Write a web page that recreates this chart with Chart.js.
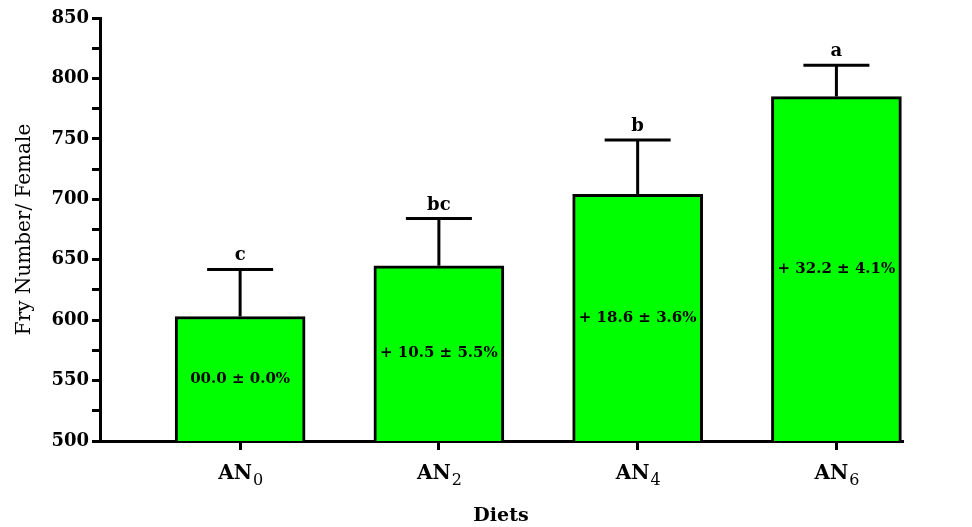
<!DOCTYPE html>
<html>
<head>
<meta charset="utf-8">
<script src="https://cdn.jsdelivr.net/npm/chart.js@4.4.1/dist/chart.umd.min.js"></script>
<style>
  html, body { margin: 0; padding: 0; background: #fff; }
  canvas { display: block; }
</style>
</head>
<body>
<canvas id="chart" width="972" height="527"></canvas>
<script>
// values
const diets = ['AN0', 'AN2', 'AN4', 'AN6']; // trailing digit is drawn as a subscript
const fryMeans = [603, 645, 704, 785];
const fryError = [39, 39, 45, 26];
const groupLetters = ['c', 'bc', 'b', 'a'];
const pctChange = ['00.0 ± 0.0%', '+ 10.5 ± 5.5%', '+ 18.6 ± 3.6%', '+ 32.2 ± 4.1%'];
const yMin = 500, yMax = 850, yStep = 25;

const SERIF = "'DejaVu Serif', 'Liberation Serif', serif";

const barExtras = {
  id: 'barExtras',
  afterDatasetsDraw(chart) {
    const { ctx, scales: { x, y } } = chart;
    ctx.save();
    ctx.strokeStyle = '#000';
    ctx.fillStyle = '#000';
    ctx.lineWidth = 3;
    fryMeans.forEach((m, i) => {
      const cx = x.getPixelForValue(i + 1);
      const top = y.getPixelForValue(m);
      const errTop = y.getPixelForValue(m + fryError[i]);
      // upper error bar with cap
      ctx.beginPath();
      ctx.moveTo(cx, top);
      ctx.lineTo(cx, errTop);
      ctx.moveTo(cx - 33, errTop);
      ctx.lineTo(cx + 33, errTop);
      ctx.stroke();
      // significance letter
      ctx.font = 'bold 18px ' + SERIF;
      ctx.textAlign = 'center';
      ctx.textBaseline = 'alphabetic';
      ctx.fillText(groupLetters[i], cx, errTop - 9);
      // percent change inside bar
      ctx.font = 'bold 15px ' + SERIF;
      ctx.textBaseline = 'middle';
      ctx.fillText(pctChange[i], cx, (top + y.getPixelForValue(yMin)) / 2);
    });
    ctx.restore();
  },
  afterDraw(chart) {
    // category labels with subscript digits
    const { ctx, scales: { x } } = chart;
    const base = x.bottom - 86 + 38;
    ctx.save();
    ctx.fillStyle = '#000';
    ctx.textBaseline = 'alphabetic';
    ctx.textAlign = 'left';
    x.ticks.forEach((t, i) => {
      const label = diets[i];
      const main = label.replace(/\d+$/, '');
      const sub = label.slice(main.length);
      ctx.font = 'bold 20px ' + SERIF;
      const w1 = ctx.measureText(main).width;
      ctx.font = '16px ' + SERIF;
      const w2 = ctx.measureText(sub).width;
      const cx = x.getPixelForValue(t.value);
      const left = cx - (w1 + w2) / 2;
      ctx.font = 'bold 20px ' + SERIF;
      ctx.fillText(main, left, base);
      ctx.font = '16px ' + SERIF;
      ctx.fillText(sub, left + w1 + 1, base + 6);
    });
    ctx.restore();
  }
};

new Chart(document.getElementById('chart'), {
  type: 'bar',
  data: {
    datasets: [{
      data: fryMeans.map((v, i) => ({ x: i + 1, y: v })),
      backgroundColor: '#00ff00',
      borderColor: '#000',
      borderWidth: 3,
      barThickness: 130
    }]
  },
  options: {
    responsive: false,
    animation: false,
    layout: { padding: { top: 18, right: 70, left: 0, bottom: 0 } },
    plugins: { legend: { display: false }, tooltip: { enabled: false } },
    scales: {
      x: {
        type: 'linear',
        offset: false,
        min: 0.295,
        max: 4.33,
        afterBuildTicks: (scale) => { scale.ticks = diets.map((_, i) => ({ value: i + 1 })); },
        afterFit: (scale) => { scale.height = 86; },
        ticks: { display: false },
        grid: { offset: false, drawOnChartArea: false, tickLength: 9, lineWidth: 3, color: '#000' },
        border: { color: '#000', width: 3 },
        title: {
          display: true,
          text: 'Diets',
          color: '#000',
          font: { family: SERIF, size: 19, weight: 'bold' },
          padding: 0
        }
      },
      y: {
        min: yMin,
        max: yMax,
        afterFit: (scale) => { scale.width = 100; },
        ticks: {
          stepSize: yStep,
          callback: (v) => (v % 50 === 0 ? v : ''),
          color: '#000',
          font: { family: SERIF, size: 18, weight: 'bold' },
          padding: 3
        },
        grid: { drawOnChartArea: false, tickLength: 8, lineWidth: 3, color: '#000' },
        border: { color: '#000', width: 3 },
        title: {
          display: true,
          text: 'Fry Number/ Female',
          color: '#000',
          font: { family: SERIF, size: 20 },
          padding: { top: 13, bottom: 0 }
        }
      }
    }
  },
  plugins: [barExtras]
});
</script>
</body>
</html>
